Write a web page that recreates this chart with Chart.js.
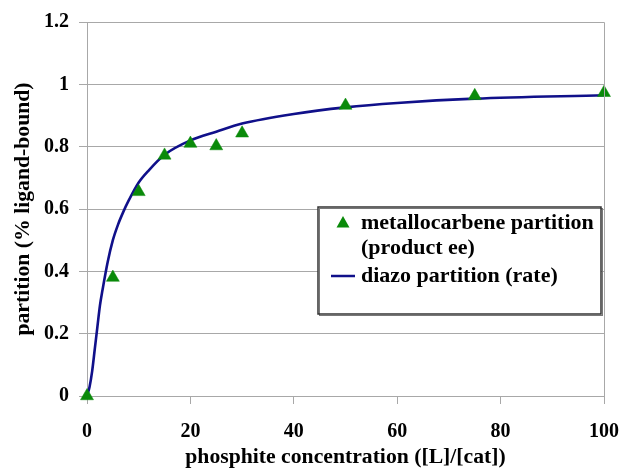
<!DOCTYPE html>
<html>
<head>
<meta charset="utf-8">
<script src="https://cdn.jsdelivr.net/npm/chart.js@4"></script>
<style>
  html, body { margin:0; padding:0; background:#fff; }
  #wrap { width:622px; height:469px; }
</style>
</head>
<body>
<div id="wrap"><canvas id="c" width="622" height="469"></canvas></div>
<script>
// measured points (triangles)
const pointX = [0, 5, 10, 15, 20, 25, 30, 50, 75, 100];
const pointY = [0, 0.38, 0.655, 0.772, 0.81, 0.802, 0.843, 0.932, 0.963, 0.973];

// fitted curve
const lineX = [0, 0.5, 1, 1.5, 2, 2.5, 3, 4, 5, 6, 7, 8, 10, 12, 15, 20, 25, 30, 40, 50, 60, 75, 100];
const lineY = [0, 0.03, 0.08, 0.15, 0.22, 0.29, 0.34, 0.43, 0.5, 0.55, 0.59, 0.625, 0.685, 0.725, 0.774, 0.82, 0.848, 0.874, 0.905, 0.926, 0.94, 0.954, 0.965];

const seriesLabels = [['metallocarbene partition', '(product ee)'], ['diazo partition (rate)']];
const xTitle = 'phosphite concentration ([L]/[cat])';
const yTitle = 'partition (% ligand-bound)';

const serif = '"Liberation Serif", "Times New Roman", serif';
const green = '#0a8a0a';
const navy = '#10108a';
const gridCol = '#a8a8a8';

// frame round the plot + legend box inside it
const framePlugin = {
  id: 'frame',
  afterDraw(chart) {
    const {ctx, chartArea: a} = chart;
    ctx.save();
    ctx.strokeStyle = gridCol;
    ctx.lineWidth = 1;
    ctx.beginPath();
    ctx.moveTo(a.left, a.top + 0.5);
    ctx.lineTo(a.right + 0.5, a.top + 0.5);
    ctx.lineTo(a.right + 0.5, a.bottom);
    ctx.stroke();

    // legend
    const bx = 318, by = 207, bw = 283, bh = 107;
    ctx.fillStyle = '#fff';
    ctx.fillRect(bx, by, bw, bh);
    ctx.strokeStyle = '#777';
    ctx.lineWidth = 1;
    ctx.strokeRect(bx + 1.5, by + 1.5, bw, bh);
    ctx.strokeStyle = '#333';
    ctx.lineWidth = 1.5;
    ctx.strokeRect(bx, by, bw, bh);

    ctx.font = 'bold 22px ' + serif;
    ctx.fillStyle = '#000';
    ctx.textBaseline = 'middle';
    ctx.textAlign = 'left';
    const tx = 361;
    // triangle marker
    ctx.fillStyle = green;
    ctx.beginPath();
    ctx.moveTo(343, 216);
    ctx.lineTo(349.5, 227.5);
    ctx.lineTo(336.5, 227.5);
    ctx.closePath();
    ctx.fill();
    ctx.fillStyle = '#000';
    ctx.fillText(seriesLabels[0][0], tx, 223);
    ctx.fillText(seriesLabels[0][1], tx, 248.5);
    // line marker
    ctx.strokeStyle = navy;
    ctx.lineWidth = 2.5;
    ctx.beginPath();
    ctx.moveTo(331, 276);
    ctx.lineTo(355, 276);
    ctx.stroke();
    ctx.fillText(seriesLabels[1][0], tx, 276.5);
    ctx.restore();
  }
};

new Chart(document.getElementById('c'), {
  type: 'scatter',
  data: {
    datasets: [
      {
        label: seriesLabels[1].join(' '),
        data: lineX.map((x, i) => ({x, y: lineY[i]})),
        showLine: true,
        borderColor: navy,
        borderWidth: 2.6,
        pointRadius: 0,
        cubicInterpolationMode: 'monotone',
        order: 2
      },
      {
        label: seriesLabels[0].join(' '),
        data: pointX.map((x, i) => ({x, y: pointY[i]})),
        pointStyle: 'triangle',
        pointRadius: 7.5,
        pointBackgroundColor: green,
        pointBorderColor: green,
        pointBorderWidth: 0.5,
        showLine: false,
        clip: false,
        order: 1
      }
    ]
  },
  options: {
    responsive: false,
    animation: false,
    layout: { padding: { top: 21, right: 18, left: 0, bottom: 0 } },
    plugins: { legend: { display: false }, tooltip: { enabled: false } },
    scales: {
      x: {
        type: 'linear', min: 0, max: 100,
        afterFit(s) { s.height = 73; s.paddingLeft = 0; s.paddingRight = 0; },
        border: { color: gridCol, width: 1 },
        grid: { drawOnChartArea: false, drawTicks: true, tickLength: 8, color: gridCol },
        ticks: { stepSize: 20, color: '#000', padding: 16, maxRotation: 0,
                 font: { family: serif, size: 20, weight: 'bold' } },
        title: { display: true, text: xTitle, color: '#000', padding: { top: 0, bottom: 0 },
                 font: { family: serif, size: 21.7, weight: 'bold', lineHeight: 1.1 } }
      },
      y: {
        min: 0, max: 1.2,
        afterFit(s) { s.width = 87; },
        border: { color: gridCol, width: 1 },
        grid: { color: gridCol, tickLength: 8 },
        ticks: { stepSize: 0.2, color: '#000', padding: 10,
                 callback: v => String(+v.toFixed(1)),
                 font: { family: serif, size: 20, weight: 'bold' } },
        title: { display: true, text: yTitle, color: '#000', padding: { top: 11, bottom: 0 },
                 font: { family: serif, size: 21.7, weight: 'bold', lineHeight: 1.1 } }
      }
    }
  },
  plugins: [framePlugin]
});
</script>
</body>
</html>
